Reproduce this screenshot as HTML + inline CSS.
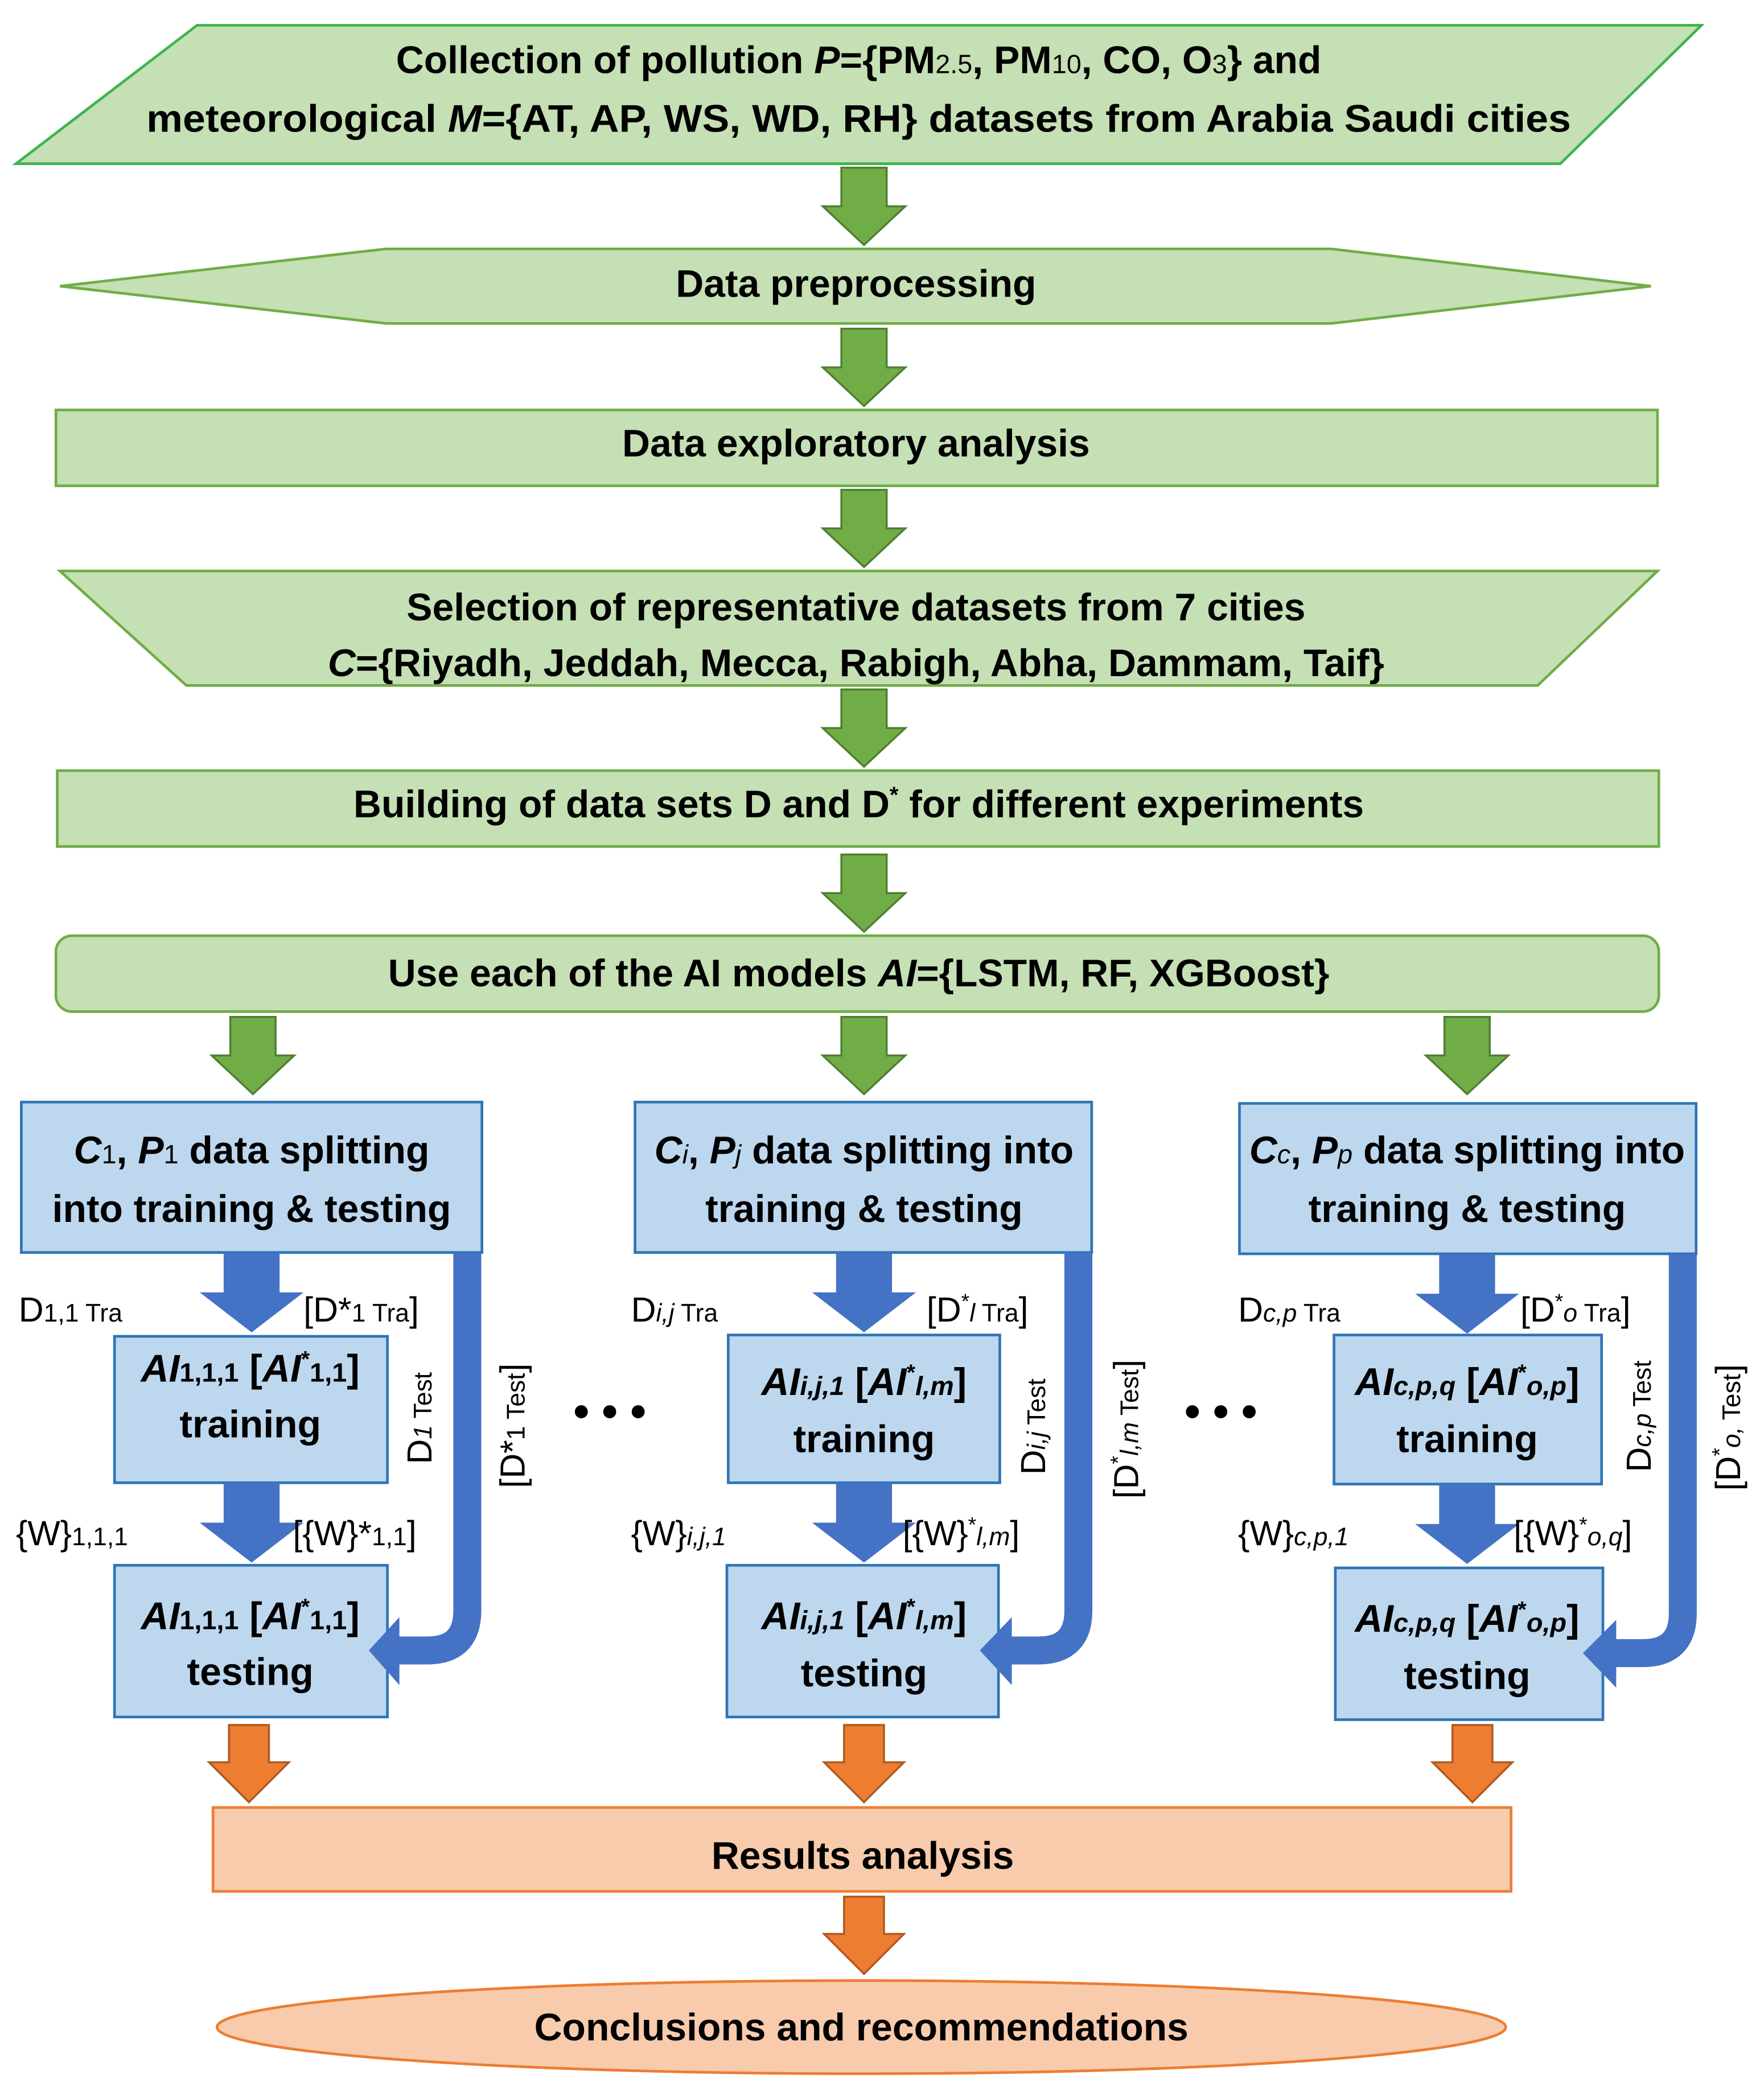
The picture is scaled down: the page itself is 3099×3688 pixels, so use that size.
<!DOCTYPE html>
<html><head><meta charset="utf-8"><style>html,body{margin:0;padding:0;background:#fff}svg{display:block}</style></head>
<body>
<svg width="3099" height="3688" viewBox="0 0 1325 1577" preserveAspectRatio="none" xmlns="http://www.w3.org/2000/svg" font-family="Liberation Sans, sans-serif">
<defs>
<g id="ga"><polygon points="-17,0 17,0 17,29 31,29 0,58 -31,29 -17,29" fill="#70ad47" stroke="#507e32" stroke-width="1.5"/></g>
<g id="oa"><polygon points="-15,0 15,0 15,28 30,28 0,58 -30,28 -15,28" fill="#ed7d31" stroke="#ae5a21" stroke-width="1.5"/></g>
<g id="ba"><polygon points="-21,0 21,0 21,30 39,30 0,60 -39,30 -21,30" fill="#4472c4"/></g>
</defs>
<g font-weight="bold" font-size="29" fill="#000" text-anchor="middle">
<polygon points="12,123 148,19 1278,19 1172,123" fill="#c5e0b4" stroke="#3fb34f" stroke-width="2"/>
<text x="645" y="55">Collection of pollution <tspan font-style="italic">P</tspan>={PM<tspan font-size="20" font-weight="normal">2.5</tspan>, PM<tspan font-size="20" font-weight="normal">10</tspan>, CO, O<tspan font-size="20" font-weight="normal">3</tspan>} and</text>
<text x="645" y="99" textLength="1070" lengthAdjust="spacingAndGlyphs">meteorological <tspan font-style="italic">M</tspan>={AT, AP, WS, WD, RH} datasets from Arabia Saudi cities</text>
<use href="#ga" x="649" y="126"/>
<polygon points="45,215 290,187 1000,187 1240,215 1000,243 290,243" fill="#c5e0b4" stroke="#70ad47" stroke-width="2"/>
<text x="643" y="223">Data preprocessing</text>
<use href="#ga" x="649" y="247"/>
<rect x="42" y="308" width="1203" height="57" fill="#c5e0b4" stroke="#70ad47" stroke-width="2"/>
<text x="643" y="343">Data exploratory analysis</text>
<use href="#ga" x="649" y="368"/>
<polygon points="45,429 1245,429 1155,515 140,515" fill="#c5e0b4" stroke="#70ad47" stroke-width="2"/>
<text x="643" y="466">Selection of representative datasets from 7 cities</text>
<text x="643" y="508"><tspan font-style="italic">C</tspan>={Riyadh, Jeddah, Mecca, Rabigh, Abha, Dammam, Taif}</text>
<use href="#ga" x="649" y="518"/>
<rect x="43" y="579" width="1203" height="57" fill="#c5e0b4" stroke="#70ad47" stroke-width="2"/>
<text x="645" y="614">Building of data sets D and D<tspan font-size="17" dy="-11">*</tspan><tspan dy="11"> for different experiments</tspan></text>
<use href="#ga" x="649" y="642"/>
<rect x="42" y="703" width="1204" height="57" rx="12" fill="#c5e0b4" stroke="#70ad47" stroke-width="2"/>
<text x="645" y="741">Use each of the AI models <tspan font-style="italic">AI</tspan>={LSTM, RF, XGBoost}</text>
<use href="#ga" x="190" y="764"/>
<use href="#ga" x="649" y="764"/>
<use href="#ga" x="1102" y="764"/>

<g fill="#bdd7ee" stroke="#2e75b6" stroke-width="2">
<rect x="16" y="828" width="346" height="113"/>
<rect x="477" y="828" width="343" height="113"/>
<rect x="931" y="829" width="343" height="113"/>
<rect x="86" y="1004" width="205" height="110"/>
<rect x="547" y="1003" width="204" height="111"/>
<rect x="1002" y="1003" width="201" height="112"/>
<rect x="86" y="1176" width="205" height="114"/>
<rect x="546" y="1176" width="204" height="114"/>
<rect x="1003" y="1178" width="201" height="114"/>
</g>
<g font-size="29">
<text x="189" y="874"><tspan font-style="italic">C</tspan><tspan font-size="20" font-weight="normal">1</tspan>, <tspan font-style="italic">P</tspan><tspan font-size="20" font-weight="normal">1</tspan> data splitting</text>
<text x="189" y="918">into training &amp; testing</text>
<text x="649" y="874"><tspan font-style="italic">C<tspan font-size="20" font-weight="normal">i</tspan></tspan>, <tspan font-style="italic">P<tspan font-size="20" font-weight="normal">j</tspan></tspan> data splitting into</text>
<text x="649" y="918">training &amp; testing</text>
<text x="1102" y="874"><tspan font-style="italic">C<tspan font-size="20" font-weight="normal">c</tspan></tspan>, <tspan font-style="italic">P<tspan font-size="20" font-weight="normal">p</tspan></tspan> data splitting into</text>
<text x="1102" y="918">training &amp; testing</text>
</g>

<g font-size="29">
<text x="188" y="1038"><tspan font-style="italic">AI</tspan><tspan font-size="20">1,1,1</tspan> [<tspan font-style="italic">AI</tspan><tspan font-size="17" dy="-11">*</tspan><tspan font-size="20" dy="11">1,1</tspan>]</text>
<text x="188" y="1080">training</text>
<text x="188" y="1224"><tspan font-style="italic">AI</tspan><tspan font-size="20">1,1,1</tspan> [<tspan font-style="italic">AI</tspan><tspan font-size="17" dy="-11">*</tspan><tspan font-size="20" dy="11">1,1</tspan>]</text>
<text x="188" y="1266">testing</text>
<text x="649" y="1048"><tspan font-style="italic">AI<tspan font-size="20">i,j,1</tspan></tspan> [<tspan font-style="italic">AI</tspan><tspan font-size="17" dy="-11">*</tspan><tspan font-size="20" dy="11" font-style="italic">l,m</tspan>]</text>
<text x="649" y="1091">training</text>
<text x="649" y="1224"><tspan font-style="italic">AI<tspan font-size="20">i,j,1</tspan></tspan> [<tspan font-style="italic">AI</tspan><tspan font-size="17" dy="-11">*</tspan><tspan font-size="20" dy="11" font-style="italic">l,m</tspan>]</text>
<text x="649" y="1267">testing</text>
<text x="1102" y="1048"><tspan font-style="italic">AI<tspan font-size="20">c,p,q</tspan></tspan> [<tspan font-style="italic">AI</tspan><tspan font-size="17" dy="-11">*</tspan><tspan font-size="20" dy="11" font-style="italic">o,p</tspan>]</text>
<text x="1102" y="1091">training</text>
<text x="1102" y="1226"><tspan font-style="italic">AI<tspan font-size="20">c,p,q</tspan></tspan> [<tspan font-style="italic">AI</tspan><tspan font-size="17" dy="-11">*</tspan><tspan font-size="20" dy="11" font-style="italic">o,p</tspan>]</text>
<text x="1102" y="1269">testing</text>
</g>

<g fill="none" stroke="#4472c4" stroke-width="21">
<path d="M351,941 V1210 Q351,1240 321,1240 H298"/>
<path d="M810,941 V1210 Q810,1240 780,1240 H758"/>
<path d="M1264,942 V1212 Q1264,1242 1234,1242 H1212"/>
</g>
<g fill="#4472c4">
<polygon points="300,1215 300,1266 277,1240"/>
<polygon points="760,1215 760,1266 736,1240"/>
<polygon points="1214,1217 1214,1268 1189,1242"/>
</g>
<use href="#ba" x="189" y="941"/>
<use href="#ba" x="189" y="1114"/>
<use href="#ba" x="649" y="941"/>
<use href="#ba" x="649" y="1114"/>
<use href="#ba" x="1102" y="942"/>
<use href="#ba" x="1102" y="1115"/>

<use href="#oa" x="187" y="1296"/>
<use href="#oa" x="649" y="1296"/>
<use href="#oa" x="1106" y="1296"/>
<rect x="160" y="1358" width="975" height="63" fill="#f8cbad" stroke="#ed7d31" stroke-width="2"/>
<text x="648" y="1404">Results analysis</text>
<use href="#oa" x="649" y="1425"/>
<ellipse cx="647" cy="1523" rx="484" ry="35" fill="#f8cbad" stroke="#ed7d31" stroke-width="2"/>
<text x="647" y="1533">Conclusions and recommendations</text>
<text x="458" y="1072" font-size="34">• • •</text>
<text x="917" y="1072" font-size="34">• • •</text>
</g>

<g font-size="26" fill="#000" font-weight="normal">
<text x="14" y="993">D<tspan font-size="19">1,1 Tra</tspan></text>
<text x="228" y="993">[D*<tspan font-size="19">1 Tra</tspan>]</text>
<text x="12" y="1161">{W}<tspan font-size="19">1,1,1</tspan></text>
<text x="220" y="1161">[{W}*<tspan font-size="19">1,1</tspan>]</text>
<text x="474" y="993">D<tspan font-size="19" font-style="italic">i,j</tspan><tspan font-size="19"> Tra</tspan></text>
<text x="696" y="993">[D<tspan font-size="16" dy="-10">*</tspan><tspan font-size="19" dy="10" font-style="italic">l</tspan><tspan font-size="19"> Tra</tspan>]</text>
<text x="474" y="1161">{W}<tspan font-size="19" font-style="italic">i,j,1</tspan></text>
<text x="678" y="1161">[{W}<tspan font-size="16" dy="-10">*</tspan><tspan font-size="19" dy="10" font-style="italic">l,m</tspan>]</text>
<text x="930" y="993">D<tspan font-size="19" font-style="italic">c,p</tspan><tspan font-size="19"> Tra</tspan></text>
<text x="1142" y="993">[D<tspan font-size="16" dy="-10">*</tspan><tspan font-size="19" dy="10" font-style="italic">o</tspan><tspan font-size="19"> Tra</tspan>]</text>
<text x="930" y="1161">{W}<tspan font-size="19" font-style="italic">c,p,1</tspan></text>
<text x="1137" y="1161">[{W}<tspan font-size="16" dy="-10">*</tspan><tspan font-size="19" dy="10" font-style="italic">o,q</tspan>]</text>
<text transform="translate(324,1100) rotate(-90)">D<tspan font-size="19" font-style="italic">1</tspan><tspan font-size="19"> Test</tspan></text>
<text transform="translate(394,1118) rotate(-90)">[D*<tspan font-size="19">1 Test</tspan>]</text>
<text transform="translate(785,1108) rotate(-90)">D<tspan font-size="19" font-style="italic">i,j</tspan><tspan font-size="19"> Test</tspan></text>
<text transform="translate(855,1126) rotate(-90)">[D<tspan font-size="16" dy="-10">*</tspan><tspan font-size="19" dy="10" font-style="italic">l,m</tspan><tspan font-size="19"> Test</tspan>]</text>
<text transform="translate(1240,1106) rotate(-90)">D<tspan font-size="19" font-style="italic">c,p</tspan><tspan font-size="19"> Test</tspan></text>
<text transform="translate(1307,1120) rotate(-90)">[D<tspan font-size="16" dy="-10">*</tspan><tspan font-size="19" dy="10" font-style="italic">o,</tspan><tspan font-size="19"> Test</tspan>]</text>
</g>
</svg>
</body></html>
